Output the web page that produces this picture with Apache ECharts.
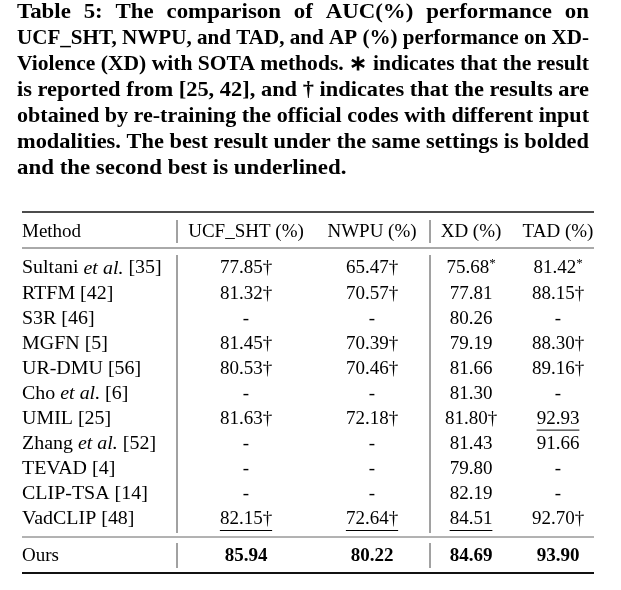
<!DOCTYPE html>
<html><head><meta charset="utf-8">
<script src="https://cdn.jsdelivr.net/npm/echarts@6/dist/echarts.min.js"></script>
<style>html,body{margin:0;padding:0;background:#fff}#c{width:621px;height:590px}</style>
</head><body><div id="c"></div>
<script>
// ---------- data ----------
const captionLines = [
  'Table 5: The comparison of AUC(%) performance on',
  'UCF_SHT, NWPU, and TAD, and AP (%) performance on XD-',
  'Violence (XD) with SOTA methods. \u2217 indicates that the result',
  'is reported from [25, 42], and \u2020 indicates that the results are',
  'obtained by re-training the official codes with different input',
  'modalities. The best result under the same settings is bolded',
  'and the second best is underlined.'
];
const headers = ['Method', 'UCF_SHT (%)', 'NWPU (%)', 'XD (%)', 'TAD (%)'];
const methods = ['Sultani et al. [35]', 'RTFM [42]', 'S3R [46]', 'MGFN [5]', 'UR-DMU [56]', 'Cho et al. [6]',
  'UMIL [25]', 'Zhang et al. [52]', 'TEVAD [4]', 'CLIP-TSA [14]', 'VadCLIP [48]'];
const ucf  = [77.85, 81.32, null, 81.45, 80.53, null, 81.63, null, null, null, 82.15];
const nwpu = [65.47, 70.57, null, 70.39, 70.46, null, 72.18, null, null, null, 72.64];
const xd   = [75.68, 77.81, 80.26, 79.19, 81.66, 81.30, 81.80, 81.43, 79.80, 82.19, 84.51];
const tad  = [81.42, 88.15, null, 88.30, 89.16, null, 92.93, 91.66, null, null, 92.70];
const ucfMark  = ['\u2020', '\u2020', '', '\u2020', '\u2020', '', '\u2020', '', '', '', '\u2020'];
const nwpuMark = ['\u2020', '\u2020', '', '\u2020', '\u2020', '', '\u2020', '', '', '', '\u2020'];
const xdMark   = ['*', '', '', '', '', '', '\u2020', '', '', '', ''];
const tadMark  = ['*', '\u2020', '', '\u2020', '\u2020', '', '', '', '', '', '\u2020'];
const oursLabel = 'Ours';
const ours = [85.94, 80.22, 84.69, 93.90];

// ---------- layout ----------
const FAM = '"Liberation Serif", "Times New Roman", serif';
const BODY = 19;
const TEXT_DY = 1.5;
const colX = [22, 246, 372, 471, 558];
const headerY = 231, firstRowY = 267, rowStep = 25.1, oursY = 555;
const tableL = 22, tableR = 594;

const cv = document.createElement('canvas'); const ctx = cv.getContext('2d');
function tw(t, f) { ctx.font = f; return ctx.measureText(t).width; }
function font(size, bold, italic) { return (italic ? 'italic ' : '') + (bold ? 'bold ' : '') + size + 'px ' + FAM; }

// build cells
const cells = [];
headers.forEach((h, c) => cells.push({ x: colX[c], y: headerY, parts: [{ t: h }], align: c === 0 ? 'left' : 'center' }));
const cols = [[ucf, ucfMark], [nwpu, nwpuMark], [xd, xdMark], [tad, tadMark]];
const second = cols.map(([vals]) => Math.max(...vals.filter(v => v != null)));
methods.forEach((m, r) => {
  const y = firstRowY + r * rowStep;
  let parts;
  const k = m.indexOf('et al.');
  if (k >= 0) parts = [{ t: m.slice(0, k) }, { t: 'et al.', italic: true }, { t: m.slice(k + 6) }];
  else parts = [{ t: m }];
  cells.push({ x: colX[0], y, parts, align: 'left', method: true });
  cols.forEach(([vals, marks], c) => {
    const v = vals[r];
    if (v == null) { cells.push({ x: colX[c + 1], y, parts: [{ t: '-' }], align: 'center' }); return; }
    const p = [{ t: v.toFixed(2) }];
    if (marks[r] === '*') p.push({ t: '*', sup: true });
    else if (marks[r]) p.push({ t: marks[r] });
    cells.push({ x: colX[c + 1], y, parts: p, align: 'center', underline: v === second[c] });
  });
});
cells.push({ x: colX[0], y: oursY, parts: [{ t: oursLabel }], align: 'left' });
ours.forEach((v, c) => cells.push({ x: colX[c + 1], y: oursY, parts: [{ t: v.toFixed(2), bold: true }], align: 'center' }));

// rules: [x1, y1, x2, y2, width, color]
const rules = [
  [tableL, 212, tableR, 212, 1.6, '#111'],
  [tableL, 248, tableR, 248, 1, '#555'],
  [tableL, 537, tableR, 537, 1, '#666'],
  [tableL, 573, tableR, 573, 2, '#111'],
  [177, 220, 177, 243, 1, '#444'], [430, 220, 430, 243, 1, '#444'],
  [177, 255, 177, 533, 1, '#444'], [430, 255, 430, 533, 1, '#444'],
  [177, 543, 177, 568, 1, '#444'], [430, 543, 430, 568, 1, '#444']
];

// caption graphics (justified)
const capSize = 21, capFont = font(capSize, true, false), capStretch = 1.09;
const capLeft = 17, capRight = 589, capY0 = 13, capStep = 26;
const graphics = [];
captionLines.forEach((line, i) => {
  const words = line.split(' ');
  const y = capY0 + i * capStep;
  const justify = i < captionLines.length - 1;
  const ww = words.map(w => tw(w, capFont));
  const sumW = ww.reduce((a, b) => a + b, 0);
  const sp = tw(' ', capFont);
  let scale = capStretch;
  const target = (capRight - capLeft);
  let natural = (sumW + sp * (words.length - 1)) * scale;
  let gap = sp;
  if (natural > target) { scale = target / (sumW + sp * (words.length - 1)); }
  else if (justify) gap = (target / scale - sumW) / (words.length - 1);
  const children = []; let x = 0;
  words.forEach((w, k) => {
    children.push({ type: 'text', x: x, y: 0, style: { text: w, font: capFont, fill: '#000', textVerticalAlign: 'middle', verticalAlign: 'middle' } });
    x += ww[k] + gap;
  });
  graphics.push({ type: 'group', x: capLeft, y: y, scaleX: scale, children });
});

const chart = echarts.init(document.getElementById('c'), null, { renderer: 'canvas' });
chart.setOption({
  backgroundColor: '#fff',
  animation: false,
  graphic: graphics,
  grid: { left: 0, right: 0, top: 0, bottom: 0 },
  xAxis: { type: 'value', min: 0, max: 621, show: false },
  yAxis: { type: 'value', min: 0, max: 590, inverse: true, show: false },
  series: [
    {
      type: 'custom', clip: false,
      data: rules.map(r => [r[0], r[1], r[2], r[3]]),
      renderItem: (params, api) => {
        const r = rules[params.dataIndex];
        const a = api.coord([api.value(0), api.value(1)]);
        const b = api.coord([api.value(2), api.value(3)]);
        return { type: 'line', shape: { x1: a[0], y1: a[1], x2: b[0], y2: b[1] }, style: { stroke: r[5], lineWidth: r[4] } };
      }
    },
    {
      type: 'custom', clip: false,
      data: cells.map(c => [c.x, c.y]),
      renderItem: (params, api) => {
        const cell = cells[params.dataIndex];
        const p = api.coord([api.value(0), api.value(1)]);
        const sx = cell.method ? 1.05 : 1;
        const fonts = cell.parts.map(pt => pt.sup ? font(13, false, false) : font(BODY, !!pt.bold, !!pt.italic));
        const widths = cell.parts.map((pt, i) => tw(pt.t, fonts[i]));
        const total = widths.reduce((a, b) => a + b, 0);
        let x = cell.align === 'left' ? 0 : -total / 2;
        const x0 = x;
        const children = [];
        cell.parts.forEach((pt, i) => {
          children.push({ type: 'text', x: x, y: (pt.sup ? -5 : 0) + TEXT_DY,
            style: { text: pt.t, font: fonts[i], fill: '#000', textAlign: 'left', textVerticalAlign: 'middle', verticalAlign: 'middle' } });
          x += widths[i];
        });
        if (cell.underline) {
          children.push({ type: 'line', shape: { x1: x0, y1: 12.5, x2: x0 + total, y2: 12.5 }, style: { stroke: '#000', lineWidth: 1 } });
        }
        return { type: 'group', x: p[0], y: p[1], scaleX: sx, children };
      }
    }
  ]
});
</script>
</body></html>
